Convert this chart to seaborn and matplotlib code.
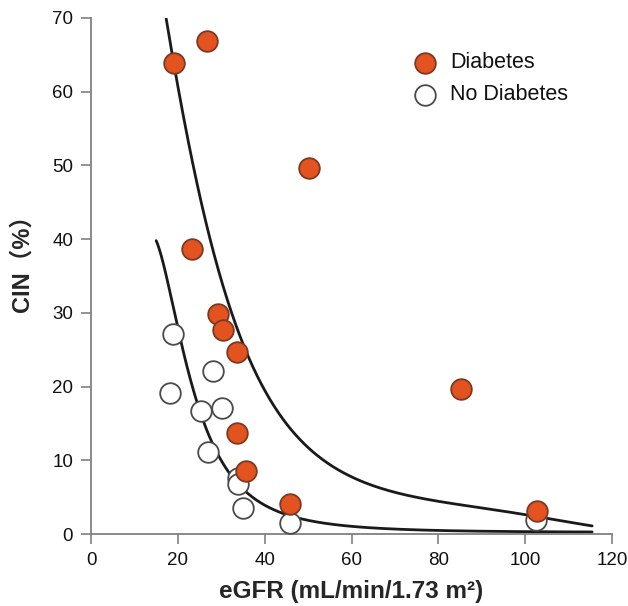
import matplotlib
matplotlib.use("Agg")
import matplotlib.pyplot as plt
import seaborn as sns
import pandas as pd
import numpy as np

# Diabetes points
diab_x = [19.1, 26.7, 50.2, 23.3, 29.3, 30.4, 33.6, 33.6, 35.7, 45.9, 85.3, 102.8]
diab_y = [63.9, 66.9, 49.7, 38.7, 29.8, 27.7, 24.7, 13.7, 8.5, 4.1, 19.7, 3.1]

# No-diabetes points
nodiab_x = [18.9, 18.2, 28.1, 30.2, 25.3, 26.9, 33.8, 33.8, 35.0, 45.9, 102.5]
nodiab_y = [27.1, 19.1, 22.1, 17.1, 16.7, 11.1, 7.6, 6.8, 3.5, 1.5, 1.9]

# Fitted curves
upper_x = [17.3, 19.4, 23.6, 27.4, 29.7, 32.0, 35.9, 38.9, 40.8, 43.5, 48.2, 54.3,
           62.0, 71.2, 80.4, 89.6, 101.2, 115.4]
upper_y = [69.7, 63.9, 52.1, 42.6, 36.1, 31.3, 23.6, 20.4, 18.4, 15.5, 12.3, 9.6,
           7.3, 5.7, 4.6, 3.5, 2.4, 1.1]
lower_x = [15.0, 17.1, 19.4, 22.0, 25.1, 28.9, 32.8, 36.6, 41.2, 46.6, 54.3, 62.0,
           80.4, 100.0, 115.4]
lower_y = [40.3, 33.6, 27.3, 20.9, 16.4, 11.4, 8.2, 5.6, 3.6, 2.4, 1.45, 0.86,
           0.45, 0.32, 0.28]

x_ticks = [0, 20, 40, 60, 80, 100, 120]
y_ticks = [0, 10, 20, 30, 40, 50, 60, 70]


def smooth(xs, ys, deg, wend, logx, n=400):
    # smooth least-squares rendering of the read curve points (log-y polynomial)
    x = np.log(xs) if logx else np.asarray(xs, float)
    ly = np.log(ys)
    w = np.ones(len(x))
    w[0] = w[-1] = wend
    coef = np.polyfit(x, ly, deg, w=w)
    g = np.linspace(x[0], x[-1], n)
    gx = np.exp(g) if logx else g
    return pd.DataFrame({"x": gx, "y": np.exp(np.polyval(coef, g))})


sns.set_theme(style="white")
plt.rcParams["font.family"] = ["Liberation Sans", "Noto Sans CJK SC", "DejaVu Sans"]

fig = plt.figure(figsize=(6.28, 6.06), dpi=100)
ax = fig.add_axes([0.145, 0.1188, 0.8297, 0.8515])

sns.lineplot(data=smooth(upper_x, upper_y, 4, 5, False), x="x", y="y", ax=ax,
             color="#1a1a1a", linewidth=2.0, sort=False, estimator=None, zorder=2)
sns.lineplot(data=smooth(lower_x, lower_y, 3, 3, True), x="x", y="y", ax=ax,
             color="#1a1a1a", linewidth=2.0, sort=False, estimator=None, zorder=2)

df_n = pd.DataFrame({"x": nodiab_x, "y": nodiab_y})
df_d = pd.DataFrame({"x": diab_x, "y": diab_y})
sns.scatterplot(data=df_n, x="x", y="y", ax=ax, s=220, color="white",
                edgecolor="#4a4a4a", linewidth=1.3, zorder=3, clip_on=False)
sns.scatterplot(data=df_d, x="x", y="y", ax=ax, s=220, color="#E2531F",
                edgecolor="#7a3a22", linewidth=1.3, zorder=4, clip_on=False)

ax.set_xlim(0, 120)
ax.set_ylim(0, 70)
ax.set_xticks(x_ticks)
ax.set_yticks(y_ticks)
ax.tick_params(axis="both", which="both", direction="out", length=7, width=1.2,
               color="#808080", labelsize=13.5, labelcolor="#111111", pad=6,
               bottom=True, left=True)
for side in ["top", "right"]:
    ax.spines[side].set_visible(False)
for side in ["left", "bottom"]:
    ax.spines[side].set_color("#808080")
    ax.spines[side].set_linewidth(1.3)

ax.set_xlabel("eGFR (mL/min/1.73 m²)", fontsize=17.5, fontweight="bold", labelpad=8)
ax.set_ylabel("CIN（%）", fontsize=17, fontweight="bold")
ax.yaxis.set_label_coords(-0.111, 0.535)

# Legend
ax.scatter([], [], s=220, color="#E2531F", edgecolor="#7a3a22", linewidth=1.3, label="Diabetes")
ax.scatter([], [], s=220, color="white", edgecolor="#4a4a4a", linewidth=1.3, label="No Diabetes")
handles, labels = ax.get_legend_handles_labels()
ax.legend(handles[-2:], labels[-2:], loc="upper left", bbox_to_anchor=(0.6, 0.95),
          frameon=False, fontsize=15.5, handletextpad=0.55, labelspacing=0.5,
          borderaxespad=0, handlelength=1.2, labelcolor="#111111")

fig.savefig("out.png", dpi=100)
